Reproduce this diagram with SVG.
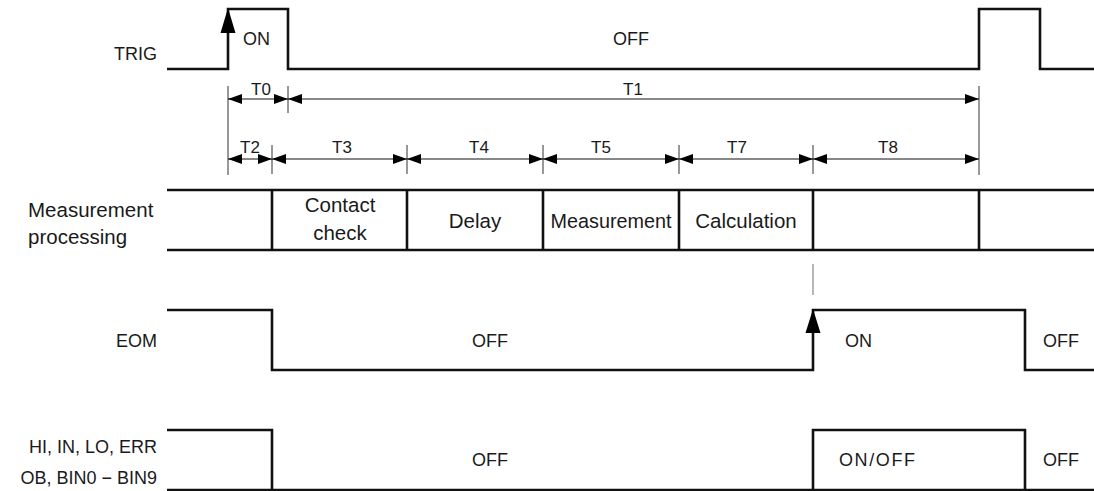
<svg xmlns="http://www.w3.org/2000/svg" width="1094" height="491" viewBox="0 0 1094 491">
<defs>
<style>
.sig{fill:none;stroke:#111;stroke-width:2.6;stroke-linejoin:miter;stroke-linecap:butt}
.dim{fill:none;stroke:#111;stroke-width:1}
.tick{fill:none;stroke:#333;stroke-width:1}
.guide{fill:none;stroke:#888;stroke-width:1.2}
.lbl{font-family:"Liberation Sans",Arial,sans-serif;font-size:18px;fill:#1a1a1a}
.big{font-family:"Liberation Sans",Arial,sans-serif;font-size:20.5px;fill:#1a1a1a}
.st{font-family:"Liberation Sans",Arial,sans-serif;font-size:18px;fill:#1a1a1a}
.tl{font-family:"Liberation Sans",Arial,sans-serif;font-size:17px;fill:#1a1a1a;text-anchor:middle}
.r{text-anchor:end}
.m{text-anchor:middle}
.head{fill:#000}
</style>
<marker id="ah" viewBox="0 0 14 10" refX="14" refY="5" markerWidth="14" markerHeight="10" markerUnits="userSpaceOnUse" orient="auto-start-reverse">
<path d="M0,0 L14,5 L0,10 z" fill="#000"/>
</marker>
</defs>
<rect width="1094" height="491" fill="#fff"/>

<g id="trig">
<text class="lbl r" x="157" y="60">TRIG</text>
<path class="sig" d="M167,69 H228 V9 H288 V69 H979 V9 H1040 V69 H1094"/>
<polygon class="head" points="228,8 235.5,33 220.5,33"/>
<text class="st" x="243" y="45">ON</text>
<text class="st m" x="631" y="45">OFF</text>
</g>

<g id="meas">
<text class="big" x="28" y="217">Measurement</text>
<text class="big" x="28" y="244">processing</text>
<path class="sig" d="M167,190 H1094 M167,250 H1094 M272,190 V250 M407,190 V250 M543,190 V250 M679,190 V250 M813,190 V250 M979,190 V250"/>
<text class="big m" x="340" y="212">Contact</text>
<text class="big m" x="340" y="240">check</text>
<text class="big m" x="475" y="228">Delay</text>
<text class="big m" x="611" y="228" textLength="121" lengthAdjust="spacingAndGlyphs">Measurement</text>
<text class="big m" x="746" y="228">Calculation</text>
</g>

<g id="eom">
<text class="lbl r" x="157" y="347">EOM</text>
<path class="sig" d="M167,310 H272 V370 H813 V310 H1025 V370 H1094"/>
<polygon class="head" points="813,309 820.5,333 805.5,333"/>
<text class="st m" x="490" y="347">OFF</text>
<text class="st" x="845" y="347">ON</text>
<text class="st" x="1043" y="347">OFF</text>
</g>

<g id="judge">
<text class="lbl r" x="157" y="453">HI, IN, LO, ERR</text>
<text class="lbl r" x="157" y="484">OB, BIN0 − BIN9</text>
<path class="sig" d="M167,430 H272 V490 M167,490 H1094 M813,490 V430 H1025 V490"/>
<text class="st m" x="490" y="466">OFF</text>
<text class="st" x="839" y="466" textLength="76" lengthAdjust="spacing">ON/OFF</text>
<text class="st" x="1043" y="466">OFF</text>
</g>

<g id="connectors">
<path class="tick" d="M228,86 V175 M288,86 V113 M979,86 V175 M272,145 V174 M407,145 V174 M543,145 V174 M679,145 V174 M813,145 V174"/>
<path class="guide" d="M813,264 V295"/>
<line class="dim" x1="228" y1="99" x2="288" y2="99" marker-start="url(#ah)" marker-end="url(#ah)"/>
<line class="dim" x1="288" y1="99" x2="979" y2="99" marker-start="url(#ah)" marker-end="url(#ah)"/>
<line class="dim" x1="228" y1="159" x2="272" y2="159" marker-start="url(#ah)" marker-end="url(#ah)"/>
<line class="dim" x1="272" y1="159" x2="407" y2="159" marker-start="url(#ah)" marker-end="url(#ah)"/>
<line class="dim" x1="407" y1="159" x2="543" y2="159" marker-start="url(#ah)" marker-end="url(#ah)"/>
<line class="dim" x1="543" y1="159" x2="679" y2="159" marker-start="url(#ah)" marker-end="url(#ah)"/>
<line class="dim" x1="679" y1="159" x2="813" y2="159" marker-start="url(#ah)" marker-end="url(#ah)"/>
<line class="dim" x1="813" y1="159" x2="979" y2="159" marker-start="url(#ah)" marker-end="url(#ah)"/>
</g>

<g id="time-labels">
<text class="tl" x="261" y="95">T0</text>
<text class="tl" x="633" y="95">T1</text>
<text class="tl" x="250" y="153">T2</text>
<text class="tl" x="342" y="153">T3</text>
<text class="tl" x="479" y="153">T4</text>
<text class="tl" x="601" y="153">T5</text>
<text class="tl" x="737" y="153">T7</text>
<text class="tl" x="888" y="153">T8</text>
</g>
</svg>
